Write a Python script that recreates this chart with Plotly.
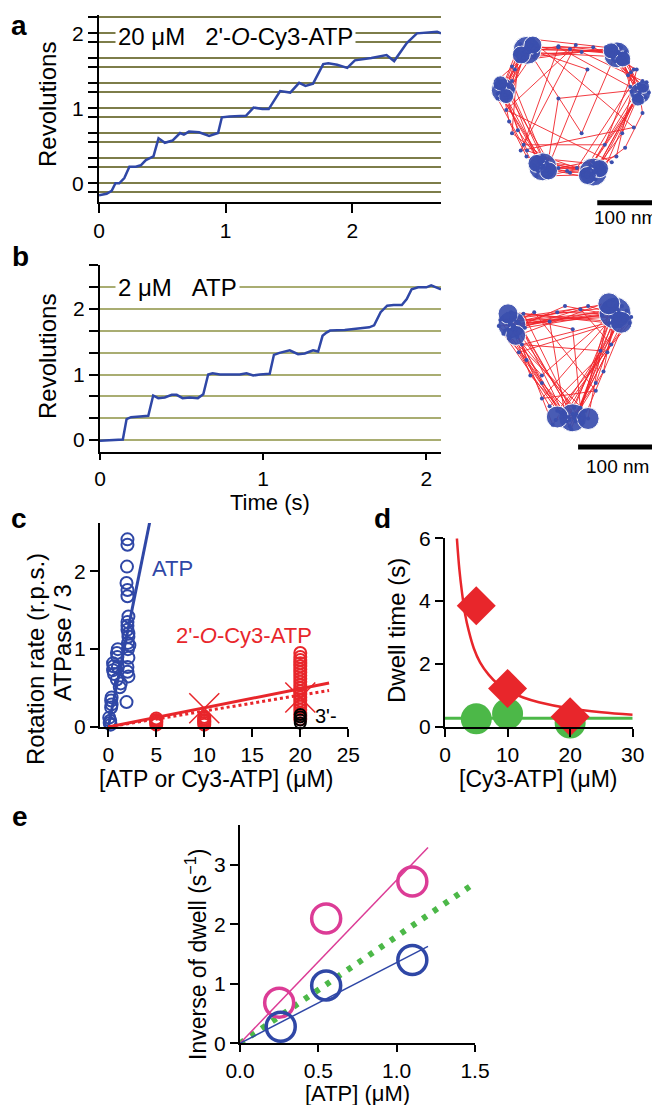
import plotly.graph_objects as go

# page body has an 8px default margin; the figure is laid out in page pixels
PAGE_W, PAGE_H = 660, 1105
OFF = 8
W, H = PAGE_W - OFF, PAGE_H - OFF
FONT = "Liberation Sans"
BLUE = "#2f47a6"
RED = "#e8262b"
GREEN = "#4cb848"
MAGENTA = "#dc3c96"
OLIVE_A = "#7d7d4a"
OLIVE_B = "#a9ad72"
CLOUD_BLUE = "#3a4fae"
CLOUD_RED = "#f0242a"

# ---------------- panel a: 20 uM 2'-O-Cy3-ATP trace ----------------
a_time = [0, 0.06, 0.10, 0.13, 0.16, 0.20, 0.24, 0.29, 0.33, 0.37, 0.43, 0.47, 0.52, 0.58, 0.64, 0.67,
          0.71, 0.79, 0.87, 0.94, 0.97, 1.03, 1.16, 1.22, 1.29, 1.34, 1.43, 1.51, 1.58, 1.63, 1.69, 1.77,
          1.81, 1.88, 1.96, 2.02, 2.15, 2.27, 2.33, 2.43, 2.51, 2.60, 2.67, 2.70]
a_rev = [-0.16, -0.14, -0.10, 0.0, 0.0, 0.07, 0.22, 0.22, 0.24, 0.31, 0.36, 0.60, 0.54, 0.57, 0.67, 0.65,
         0.69, 0.68, 0.63, 0.67, 0.88, 0.89, 0.90, 1.01, 0.99, 0.99, 1.23, 1.21, 1.34, 1.30, 1.33, 1.59,
         1.60, 1.58, 1.54, 1.64, 1.67, 1.71, 1.63, 1.87, 2.0, 2.01, 2.02, 2.0]
a_grid = [-0.111, 0.0, 0.222, 0.333, 0.556, 0.667, 0.889, 1.0, 1.222, 1.333, 1.556, 1.667, 1.889, 2.0, 2.222]
a_ticktext = ["" if v not in (0.0, 1.0, 2.0) else str(int(v)) for v in a_grid]
a_xticks = [0, 1, 2]

# ---------------- panel b: 2 uM ATP trace ----------------
b_time = [0, 0.06, 0.12, 0.14, 0.163, 0.19, 0.245, 0.296, 0.326, 0.357, 0.397, 0.44, 0.47, 0.506, 0.55,
          0.60, 0.633, 0.663, 0.69, 0.735, 0.816, 0.857, 0.898, 0.939, 0.98, 1.01, 1.04, 1.066, 1.10,
          1.163, 1.214, 1.255, 1.306, 1.337, 1.364, 1.388, 1.41, 1.50, 1.58, 1.65, 1.68, 1.72, 1.76,
          1.80, 1.85, 1.88, 1.91, 1.95, 2.0, 2.03, 2.06, 2.09]
b_rev = [-0.01, 0.0, 0.0, 0.01, 0.32, 0.35, 0.36, 0.37, 0.68, 0.64, 0.65, 0.69, 0.69, 0.64, 0.65,
         0.64, 0.70, 1.0, 1.02, 1.0, 1.0, 1.0, 1.02, 0.985, 1.0, 1.01, 1.01, 1.30, 1.33,
         1.37, 1.31, 1.32, 1.37, 1.35, 1.59, 1.64, 1.67, 1.68, 1.70, 1.72, 1.75, 1.95, 2.05,
         2.06, 2.06, 2.15, 2.30, 2.33, 2.33, 2.36, 2.33, 2.30]
b_grid = [0.0, 0.333, 0.667, 1.0, 1.333, 1.667, 2.0, 2.333, 2.667]
b_ticktext = ["0", "", "", "1", "", "", "2", "", ""]
b_xticks = [0, 1, 2]

# ---------------- x-y trajectories (nm) ----------------
a_traj = [(-66, 112), (-82, 98), (-60, 96), (70, 104), (92, 90), (78, 84), (115, 38), (130, 22), (112, 18),
          (48, -98), (30, -115), (52, -112), (-40, -90), (-55, -106), (-36, -108), (-108, 44), (-125, 28),
          (-104, 22), (-86, 114), (-62, 92), (88, 108), (66, 96), (126, 42), (110, 24), (36, -96), (58, -104),
          (-52, -88), (-30, -100), (-120, 48), (-98, 36), (-72, 118), (-90, 104), (-112, 26), (-58, 104),
          (96, 100), (74, 88), (136, 30), (118, 44), (84, 112), (106, 32), (26, -104), (44, -120), (-62, -96),
          (-44, -84), (54, -94), (-34, -112), (-128, 40), (-110, 16), (-80, 90), (-64, 122), (62, 108),
          (100, 82), (124, 14), (132, 48), (40, -90), (22, -112), (-58, -114), (-48, -80), (-100, 50),
          (-118, 36), (-94, 96), (-70, 100), (20, -40), (80, 100), (120, 30), (46, -108), (-46, -96),
          (-116, 32), (-76, 106), (30, 70), (-40, -104), (-20, 20), (128, 36), (34, -100), (-52, -100),
          (-106, 40), (-68, 110), (86, 96), (116, 26), (44, -104), (-50, -92), (-122, 30), (-78, 100),
          (76, 92), (100, 60), (122, 34), (90, -40), (38, -110), (-5, -105), (-44, -100), (-90, -35),
          (-114, 38), (-95, 70), (-72, 104), (0, 105), (82, 98), (110, 70), (60, -60), (-80, -60),
          (-20, 108), (104, 40), (12, -100), (-74, -70), (-124, 52),
          (-70, 100), (-20, 110), (84, 100), (105, 65), (120, 28), (125, -5), (95, -65), (42, -105),
          (0, -108), (-48, -96), (-75, -80), (-105, -20), (-116, 36), (-100, 75), (-76, 108), (40, 108),
          (115, 70), (80, -80), (-20, -100), (-100, -40), (-90, 85), (20, 100), (125, 50), (60, -100),
          (-60, -100), (-125, 20), (-60, 115), (110, -30), (-85, -70), (10, 112), (-110, 0), (72, -90)]
a_traj_x = [p[0] for p in a_traj]
a_traj_y = [p[1] for p in a_traj]
a_blob_x = [-74, -64, -84, -115, -120, -110, 81, 91, 71, 121, 126, 117, -47, -57, -37, 40, 51, 30]
a_blob_y = [103, 112, 95, 34, 46, 24, 95, 88, 102, 29, 40, 18, -98, -92, -105, -107, -101, -113]
a_blob_s = [28, 18, 18, 24, 15, 15, 26, 16, 16, 21, 13, 13, 28, 18, 18, 28, 18, 18]

b_traj = [(-66, 52), (-74, 40), (60, 66), (70, 56), (15, -70), (2, -80), (-78, 38), (-58, 56), (52, 72),
          (78, 52), (22, -82), (-6, -68), (-62, 30), (-82, 54), (12, -62), (66, 70), (58, 48), (-70, 62),
          (-52, 42), (80, 64), (-12, -78), (26, -66), (-86, 44), (48, 58), (72, 44), (6, -86), (-60, 48),
          (-72, 28), (62, 78), (18, -74), (-66, 44), (-20, 50), (0, -72), (76, 58), (-76, 50), (56, 62),
          (30, -76), (10, -70), (-54, 60), (84, 48), (-10, -66), (-80, 34), (-30, -20), (68, 66), (14, -80),
          (-64, 56), (10, 40), (20, -62), (60, 56), (-72, 46), (70, 62), (4, -74), (-45, -20), (-68, 40),
          (0, 70), (64, 58), (50, -15), (12, -76), (-62, 50), (-40, 62), (40, -40), (-30, -50), (74, 70),
          (-84, 52), (8, -90), (46, 12), (-56, 20), (86, 56), (-16, -84), (-70, 54),
          (-68, 44), (-10, 62), (66, 60), (55, 10), (12, -74), (-30, -30), (-70, 48), (30, 70), (70, 58),
          (40, -30), (6, -78), (-50, 0), (-64, 40), (20, 66), (60, 20), (-20, -60), (-60, 10), (76, 52)]
b_traj_x = [p[0] for p in b_traj]
b_traj_y = [p[1] for p in b_traj]
b_blob_x = [-69, -74, -64, 65, 73, 57, 10, -10, 30]
b_blob_y = [46, 60, 32, 61, 49, 73, -75, -74, -76]
b_blob_s = [28, 20, 20, 32, 22, 22, 28, 22, 22]
scale_nm = 100

# ---------------- panel c ----------------
atp_x = [0.15, 0.2, 0.1, 0.25, 0.3, 0.35, 0.3, 0.35, 0.5, 0.55, 0.5, 0.6, 0.9, 1.0, 0.95, 0.9, 1.3, 1.2, 1.0,
         2.0, 2.0, 1.95, 1.9, 2.0, 2.0, 2.1, 2.0, 2.0, 2.1, 2.05, 2.1, 2.0, 2.1, 2.0, 2.0, 2.1, 1.9, 2.05, 2.2]
atp_rate = [0.05, 0.08, 0.12, 0.03, 0.25, 0.29, 0.34, 0.38, 0.73, 0.78, 0.82, 0.68, 0.95, 1.0, 0.9, 0.61, 0.56,
            0.51, 0.77, 2.41, 2.34, 2.06, 1.85, 1.76, 1.68, 1.42, 1.35, 1.25, 1.16, 1.08, 1.2, 1.3, 0.89, 0.77,
            0.71, 0.65, 0.32, 1.0, 1.05]
atp_fit_x = [0, 4.4]
atp_fit_y = [0, 2.68]
cy3_x = [20] * 22 + [5] * 5 + [10] * 6
cy3_rate = [0.95, 0.9, 0.86, 0.82, 0.78, 0.74, 0.7, 0.66, 0.62, 0.58, 0.54, 0.5, 0.46, 0.42, 0.38, 0.34, 0.3,
            0.26, 0.22, 0.18, 0.14, 0.1,
            0.03, 0.05, 0.07, 0.09, 0.11,
            0.03, 0.05, 0.07, 0.09, 0.11, 0.13]
atpase_x = [10, 20]
atpase_y = [0.24, 0.38]
cy3_fit_x = [0, 23]
cy3_fit_y = [0, 0.565]
atpase_fit_x = [0, 23]
atpase_fit_y = [0, 0.47]
c3_x = [20, 20, 20, 20]
c3_rate = [0.05, 0.09, 0.13, 0.16]

# ---------------- panel d ----------------
d_curve_x = [1.9, 2.3, 2.7, 3.2, 3.8, 4.6, 5.6, 7, 8.5, 10, 12.5, 15, 20, 25, 30]
d_curve_y = [6.0, 5.0, 4.3, 3.6, 3.05, 2.5, 2.05, 1.65, 1.35, 1.15, 0.93, 0.78, 0.58, 0.46, 0.38]
d_conc = [5, 10, 20]
d_dwell_red = [3.85, 1.22, 0.32]
d_dwell_green = [0.25, 0.41, 0.12]
d_green_line_x = [0, 30]
d_green_line_y = [0.27, 0.27]

# ---------------- panel e ----------------
e_atp = [0.25, 0.55, 1.1]
e_mag = [0.68, 2.1, 2.72]
e_atp_b = [0.26, 0.55, 1.1]
e_blue = [0.28, 0.97, 1.4]
e_mag_fit_x = [0, 1.2]
e_mag_fit_y = [0, 3.29]
e_blue_fit_x = [0, 1.2]
e_blue_fit_y = [0, 1.63]
e_green_fit_x = [0, 1.48]
e_green_fit_y = [0, 2.66]


def fx(px):
    return (px - OFF) / W


def fy(py):
    return 1 - (py - OFF) / H


fig = go.Figure()


def add(tr):
    tr.showlegend = False
    tr.hoverinfo = "skip"
    fig.add_trace(tr)


# panel a trace
add(go.Scatter(x=a_time, y=a_rev, mode="lines", line=dict(color=BLUE, width=2.5), xaxis="x", yaxis="y"))
# panel a cloud
add(go.Scatter(x=a_traj_x, y=a_traj_y, mode="lines", line=dict(color=CLOUD_RED, width=0.9), xaxis="x2", yaxis="y2"))
add(go.Scatter(x=a_blob_x, y=a_blob_y, mode="markers",
               marker=dict(color=CLOUD_BLUE, size=a_blob_s, opacity=0.92), xaxis="x2", yaxis="y2"))
add(go.Scatter(x=a_traj_x, y=a_traj_y, mode="markers", marker=dict(color=CLOUD_BLUE, size=4),
               xaxis="x2", yaxis="y2"))
add(go.Scatter(x=[47, 47 + scale_nm], y=[-160, -160], mode="lines", line=dict(color="black", width=5),
               xaxis="x2", yaxis="y2"))

# panel b trace
add(go.Scatter(x=b_time, y=b_rev, mode="lines", line=dict(color=BLUE, width=2.5), xaxis="x3", yaxis="y3"))
# panel b cloud
add(go.Scatter(x=b_traj_x, y=b_traj_y, mode="lines", line=dict(color=CLOUD_RED, width=0.9), xaxis="x4", yaxis="y4"))
add(go.Scatter(x=b_blob_x, y=b_blob_y, mode="markers",
               marker=dict(color=CLOUD_BLUE, size=b_blob_s, opacity=0.92), xaxis="x4", yaxis="y4"))
add(go.Scatter(x=b_traj_x, y=b_traj_y, mode="markers", marker=dict(color=CLOUD_BLUE, size=4),
               xaxis="x4", yaxis="y4"))
add(go.Scatter(x=[17, 17 + scale_nm], y=[-113, -113], mode="lines", line=dict(color="black", width=5),
               xaxis="x4", yaxis="y4"))

# panel c
add(go.Scatter(x=atp_x, y=atp_rate, mode="markers", cliponaxis=False,
               marker=dict(symbol="circle-open", size=12, color=BLUE, line=dict(width=2)), xaxis="x5", yaxis="y5"))
add(go.Scatter(x=atp_fit_x, y=atp_fit_y, mode="lines", line=dict(color=BLUE, width=3), xaxis="x5", yaxis="y5"))
add(go.Scatter(x=cy3_x, y=cy3_rate, mode="markers", cliponaxis=False,
               marker=dict(symbol="circle-open", size=12, color=RED, line=dict(width=2)), xaxis="x5", yaxis="y5"))
add(go.Scatter(x=c3_x, y=c3_rate, mode="markers", cliponaxis=False,
               marker=dict(symbol="circle-open", size=11, color="black", line=dict(width=2)), xaxis="x5", yaxis="y5"))
add(go.Scatter(x=cy3_fit_x, y=cy3_fit_y, mode="lines", line=dict(color=RED, width=3), xaxis="x5", yaxis="y5"))
add(go.Scatter(x=atpase_fit_x, y=atpase_fit_y, mode="lines", line=dict(color=RED, width=3, dash="dot"),
               xaxis="x5", yaxis="y5"))
add(go.Scatter(x=atpase_x, y=atpase_y, mode="markers", cliponaxis=False,
               marker=dict(symbol="x-thin", size=30, color=RED, line=dict(width=1.5, color=RED)),
               xaxis="x5", yaxis="y5"))

# panel d
add(go.Scatter(x=d_green_line_x, y=d_green_line_y, mode="lines", line=dict(color=GREEN, width=3),
               xaxis="x6", yaxis="y6"))
add(go.Scatter(x=d_curve_x, y=d_curve_y, mode="lines", line=dict(color=RED, width=2.5, shape="spline"),
               xaxis="x6", yaxis="y6"))
add(go.Scatter(x=d_conc, y=d_dwell_green, mode="markers", cliponaxis=False,
               marker=dict(symbol="circle", size=31, color=GREEN), xaxis="x6", yaxis="y6"))
add(go.Scatter(x=d_conc, y=d_dwell_red, mode="markers", cliponaxis=False,
               marker=dict(symbol="diamond", size=30, color=RED), xaxis="x6", yaxis="y6"))

# panel e
add(go.Scatter(x=e_green_fit_x, y=e_green_fit_y, mode="lines", line=dict(color=GREEN, width=6, dash="5px,8px"),
               xaxis="x7", yaxis="y7"))
add(go.Scatter(x=e_mag_fit_x, y=e_mag_fit_y, mode="lines", line=dict(color=MAGENTA, width=1.5),
               xaxis="x7", yaxis="y7"))
add(go.Scatter(x=e_blue_fit_x, y=e_blue_fit_y, mode="lines", line=dict(color=BLUE, width=1.5),
               xaxis="x7", yaxis="y7"))
add(go.Scatter(x=e_atp, y=e_mag, mode="markers", cliponaxis=False,
               marker=dict(symbol="circle-open", size=29, color=MAGENTA, line=dict(width=3.5)), xaxis="x7", yaxis="y7"))
add(go.Scatter(x=e_atp_b, y=e_blue, mode="markers", cliponaxis=False,
               marker=dict(symbol="circle-open", size=29, color=BLUE, line=dict(width=3.5)), xaxis="x7", yaxis="y7"))

tickfont = dict(family=FONT, size=21, color="black")
base = dict(showline=True, linecolor="black", linewidth=2, ticks="outside", tickcolor="black",
            tickwidth=2, ticklen=8, zeroline=False, showgrid=False, tickfont=tickfont, fixedrange=True,
            automargin=False)
hidden = dict(visible=False, showgrid=False, zeroline=False, fixedrange=True, automargin=False)

# cloud axes ranges derived from pixel scale (px per nm)
sa, sb = 0.58, 0.77
a_org = (570, 110)
b_org = (565, 360)
a_box = (465, 660, 20, 235)
b_box = (465, 660, 270, 480)

layout = dict(
    width=W, height=H, margin=dict(l=0, r=0, t=0, b=0, autoexpand=False),
    paper_bgcolor="white", plot_bgcolor="rgba(0,0,0,0)",
    font=dict(family=FONT, color="black"),
    xaxis=dict(base, domain=[fx(99), fx(441)], range=[0, 2.70], tickvals=a_xticks, ticklen=9, anchor="y"),
    yaxis=dict(base, domain=[fy(202), fy(15)], range=[-0.25, 2.245], tickvals=a_grid, ticktext=a_ticktext,
               ticklen=9, showgrid=True, gridcolor=OLIVE_A, gridwidth=1.6, anchor="x"),
    xaxis2=dict(hidden, domain=[fx(a_box[0]), fx(a_box[1])],
                range=[(a_box[0] - a_org[0]) / sa, (a_box[1] - a_org[0]) / sa], anchor="y2"),
    yaxis2=dict(hidden, domain=[fy(a_box[3]), fy(a_box[2])],
                range=[(a_org[1] - a_box[3]) / sa, (a_org[1] - a_box[2]) / sa], anchor="x2"),
    xaxis3=dict(base, domain=[fx(100), fx(441)], range=[0, 2.09], tickvals=b_xticks, ticklen=6, anchor="y3"),
    yaxis3=dict(base, domain=[fy(452.3), fy(265)], range=[-0.186, 2.67], tickvals=b_grid, ticktext=b_ticktext,
                ticklen=9, showgrid=True, gridcolor=OLIVE_B, gridwidth=1.6, anchor="x3"),
    xaxis4=dict(hidden, domain=[fx(b_box[0]), fx(b_box[1])],
                range=[(b_box[0] - b_org[0]) / sb, (b_box[1] - b_org[0]) / sb], anchor="y4"),
    yaxis4=dict(hidden, domain=[fy(b_box[3]), fy(b_box[2])],
                range=[(b_org[1] - b_box[3]) / sb, (b_org[1] - b_box[2]) / sb], anchor="x4"),
    xaxis5=dict(base, domain=[fx(100), fx(348.3)], range=[-0.86, 25], tickvals=[0, 5, 10, 15, 20, 25], anchor="y5"),
    yaxis5=dict(base, domain=[fy(727), fy(523)], range=[0, 2.62], tickvals=[0, 1, 2], anchor="x5"),
    xaxis6=dict(base, domain=[fx(445), fx(632.7)], range=[0, 30], tickvals=[0, 10, 20, 30], anchor="y6"),
    yaxis6=dict(base, domain=[fy(726.7), fy(538.3)], range=[0, 6], tickvals=[0, 2, 4, 6], anchor="x6"),
    xaxis7=dict(base, domain=[fx(240), fx(475)], range=[0, 1.5], tickvals=[0, 0.5, 1.0, 1.5],
                ticktext=["0.0", "0.5", "1.0", "1.5"], ticklen=7, anchor="y7"),
    yaxis7=dict(base, domain=[fy(1043.3), fy(825)], range=[0, 3.67], tickvals=[0, 1, 2, 3], anchor="x7"),
)
fig.update_layout(**layout)


def ann(text, px, py, size=23, color="black", angle=0, xanchor="center", bold=False, bg=None):
    if bold:
        text = "<b>" + text + "</b>"
    d = dict(text=text, x=fx(px), y=fy(py), xref="paper", yref="paper", showarrow=False,
             xanchor=xanchor, yanchor="middle", textangle=angle,
             font=dict(family=FONT, size=size, color=color))
    if bg:
        d["bgcolor"] = bg
        d["borderpad"] = 2
    fig.add_annotation(**d)


# panel letters
ann("a", 19, 25, size=28, bold=True)
ann("b", 20, 257, size=28, bold=True)
ann("c", 19, 519, size=28, bold=True)
ann("d", 382, 519, size=28, bold=True)
ann("e", 20, 816, size=28, bold=True)

# in-plot labels
ann("20 μM\u00a0\u00a0\u00a02'-<i>O</i>-Cy3-ATP", 115, 37, size=24, xanchor="left", bg="white")
ann("2 μM\u00a0\u00a0\u00a0ATP", 115, 287, size=24, xanchor="left", bg="white")
ann("100 nm", 625, 217, size=19)
ann("100 nm", 617, 466, size=19)
ann("ATP", 172, 568, size=22, color=BLUE)
ann("2'-<i>O</i>-Cy3-ATP", 244, 635, size=22, color=RED)
ann("3'-", 313, 716, size=20, xanchor="left")

# axis titles
ann("Revolutions", 47, 105, size=24, angle=-90)
ann("Revolutions", 47, 357, size=24, angle=-90)
ann("Time (s)", 270, 502, size=22)
ann("Rotation rate (r.p.s.)", 35, 659, size=24, angle=-90)
ann("ATPase / 3", 62, 642, size=24, angle=-90)
ann("[ATP or Cy3-ATP] (μM)", 216, 779, size=23)
ann("Dwell time (s)", 397, 631, size=24, angle=-90)
ann("[Cy3-ATP] (μM)", 538, 779, size=23)
ann("Inverse of dwell (s<sup>−1</sup>)", 196, 955, size=23, angle=-90)
ann("[ATP] (μM)", 357, 1093, size=22)

fig.write_html("out.html")
